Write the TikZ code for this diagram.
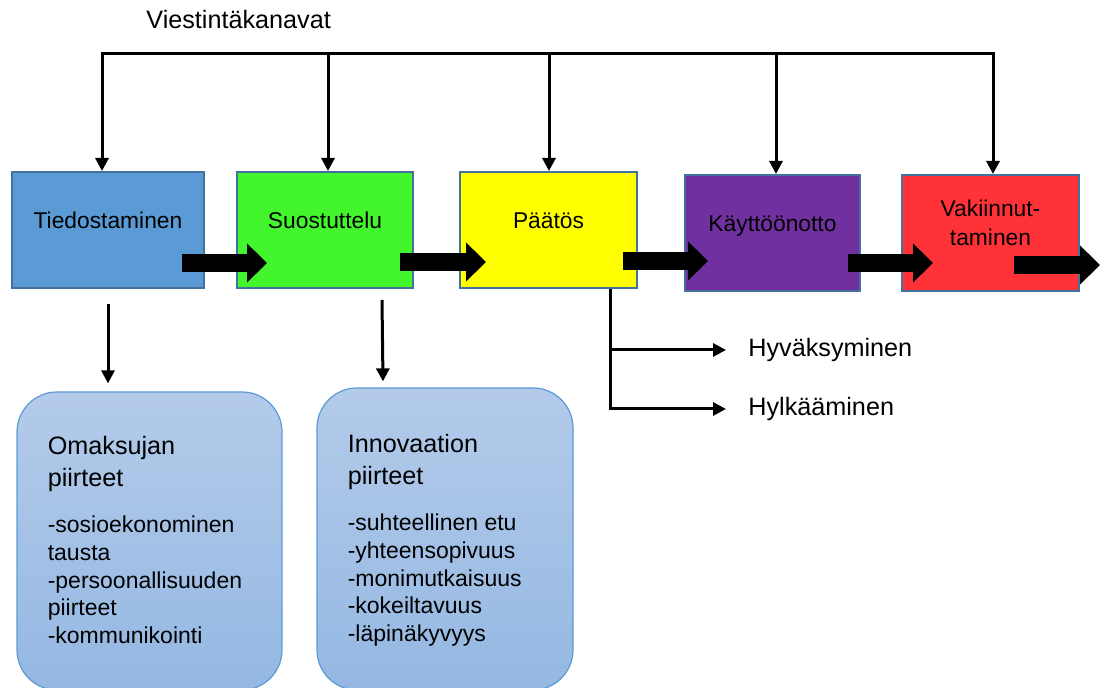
\documentclass[tikz,border=0pt]{standalone}
\usepackage{fontspec}
\setmainfont{Liberation Sans}
\usepackage{tikz}
\usetikzlibrary{arrows.meta, calc}
\definecolor{phaseA}{RGB}{91,155,213}
\definecolor{phaseB}{RGB}{66,245,44}
\definecolor{phaseC}{RGB}{255,255,0}
\definecolor{phaseD}{RGB}{112,48,160}
\definecolor{phaseE}{RGB}{255,50,56}
\definecolor{boxline}{RGB}{65,113,156}
\definecolor{traitTop}{RGB}{180,203,234}
\definecolor{traitBot}{RGB}{148,184,226}
\definecolor{traitLine}{RGB}{91,155,213}

\begin{document}
\begin{tikzpicture}[
    x=0.5pt, y=-0.5pt,
    phase/.style={draw=boxline,line width=1pt,minimum width=88pt,minimum height=58pt,
      inner sep=0pt,align=center,text height=8pt,text depth=9pt,
      font=\fontsize{11.4}{14.5}\selectfont},
    trait/.style={draw=traitLine,line width=0.6pt,rounded corners=20pt,
      top color=traitTop,bottom color=traitBot,inner sep=0pt},
    traithead/.style={anchor=north west,align=left,inner sep=0pt,
      font=\fontsize{12.6}{16}\selectfont},
    traitlist/.style={anchor=north west,align=left,inner sep=0pt,
      font=\fontsize{11.5}{13.9}\selectfont},
    lbl/.style={anchor=west,inner sep=0pt,font=\fontsize{12.6}{15}\selectfont},
    arrow/.style={-{Triangle[length=6.5pt,width=6.5pt]},line width=1.5pt},
    bigarrow/.style={-{Triangle[length=10pt,width=19pt]},line width=9pt}
  ]
  \useasboundingbox (0,0) rectangle (1100,688);

  % Channels
  \node[anchor=west,inner sep=0pt,font=\fontsize{12.6}{15}\selectfont] (chan) at (146,20) {Viestintäkanavat};
  \coordinate (bus) at (0,54);

  % Phases
  \node[phase,fill=phaseA,minimum width=96pt] (tied) at (108,230) {Tiedostaminen};
  \node[phase,fill=phaseB] (suos) at (325,230) {Suostuttelu};
  \node[phase,fill=phaseC,minimum width=88.5pt] (paat) at (548.5,230) {Päätös};
  \node[phase,fill=phaseD,minimum width=87.5pt] (kayt) at (772.5,233) {Käyttöönotto};
  \node[phase,fill=phaseE,minimum width=88.5pt,text height=22pt] (vaki) at (990.5,233) {Vakiinnut-\\taminen};

  % Channels -> phases
  \draw[line width=1.5pt,line cap=rect] ($(tied.north |- bus)+(-6,0)$) -- ($(vaki.north |- bus)+(2.5,0)$);
  \foreach \b/\dx in {tied/-6,suos/3,paat/0.5,kayt/3.5,vaki/2.5}
    \draw[arrow] ($(\b.north |- bus)+(\dx,0)$) -- ($(\b.north)+(\dx,0)$);

  % Phase to phase
  \draw[bigarrow] ($(tied.east)+(-23,33)$) -- ($(suos.west)+(31,33)$);
  \draw[bigarrow] ($(suos.east)+(-14,32)$) -- ($(paat.west)+(27,32)$);
  \draw[bigarrow] ($(paat.east)+(-15,31)$) -- ($(kayt.west)+(24,28)$);
  \draw[bigarrow] ($(kayt.east)+(-13,30)$) -- ($(vaki.west)+(32,30)$);
  \coordinate (exit) at (1100,265);
  \draw[bigarrow] ($(vaki.east)+(-66,32)$) -- (exit);

  % Decision
  \node[lbl] (hyva) at (748,350) {Hyväksyminen};
  \node[lbl] (hylk) at (748,409) {Hylkääminen};
  \coordinate (split) at ($(paat.south)+(61.5,0)$);
  \draw[arrow] (split) |- ([xshift=-11pt]hylk.west);
  \draw[arrow] (split |- hyva.west) -- ([xshift=-11pt]hyva.west);

  % Traits
  \node[trait,minimum width=132.5pt,minimum height=149pt] (omak) at (149.5,541) {};
  \node[trait,minimum width=128pt,minimum height=151pt] (inno) at (445,539) {};
  \node[traithead] (omakHead) at ($(omak.north west)+(31,44)$) {Omaksujan\\piirteet};
  \node[traitlist] (omakList) at ($(omak.north west)+(31,124)$)
    {-sosioekonominen\\tausta\\-persoonallisuuden\\piirteet\\-kommunikointi};
  \node[traithead] (innoHead) at ($(inno.north west)+(31,46)$) {Innovaation\\piirteet};
  \node[traitlist] (innoList) at ($(inno.north west)+(31,126)$)
    {-suhteellinen etu\\-yhteensopivuus\\-monimutkaisuus\\-kokeiltavuus\\-läpinäkyvyys};

  \draw[arrow] ($(tied.south)+(0,15)$) -- ($(tied.south |- omak.north)+(0,-8)$);
  \draw[arrow] ($(suos.south)+(57,11)$) -- ($(suos.south |- inno.north)+(58,-6)$);

\end{tikzpicture}
\end{document}
